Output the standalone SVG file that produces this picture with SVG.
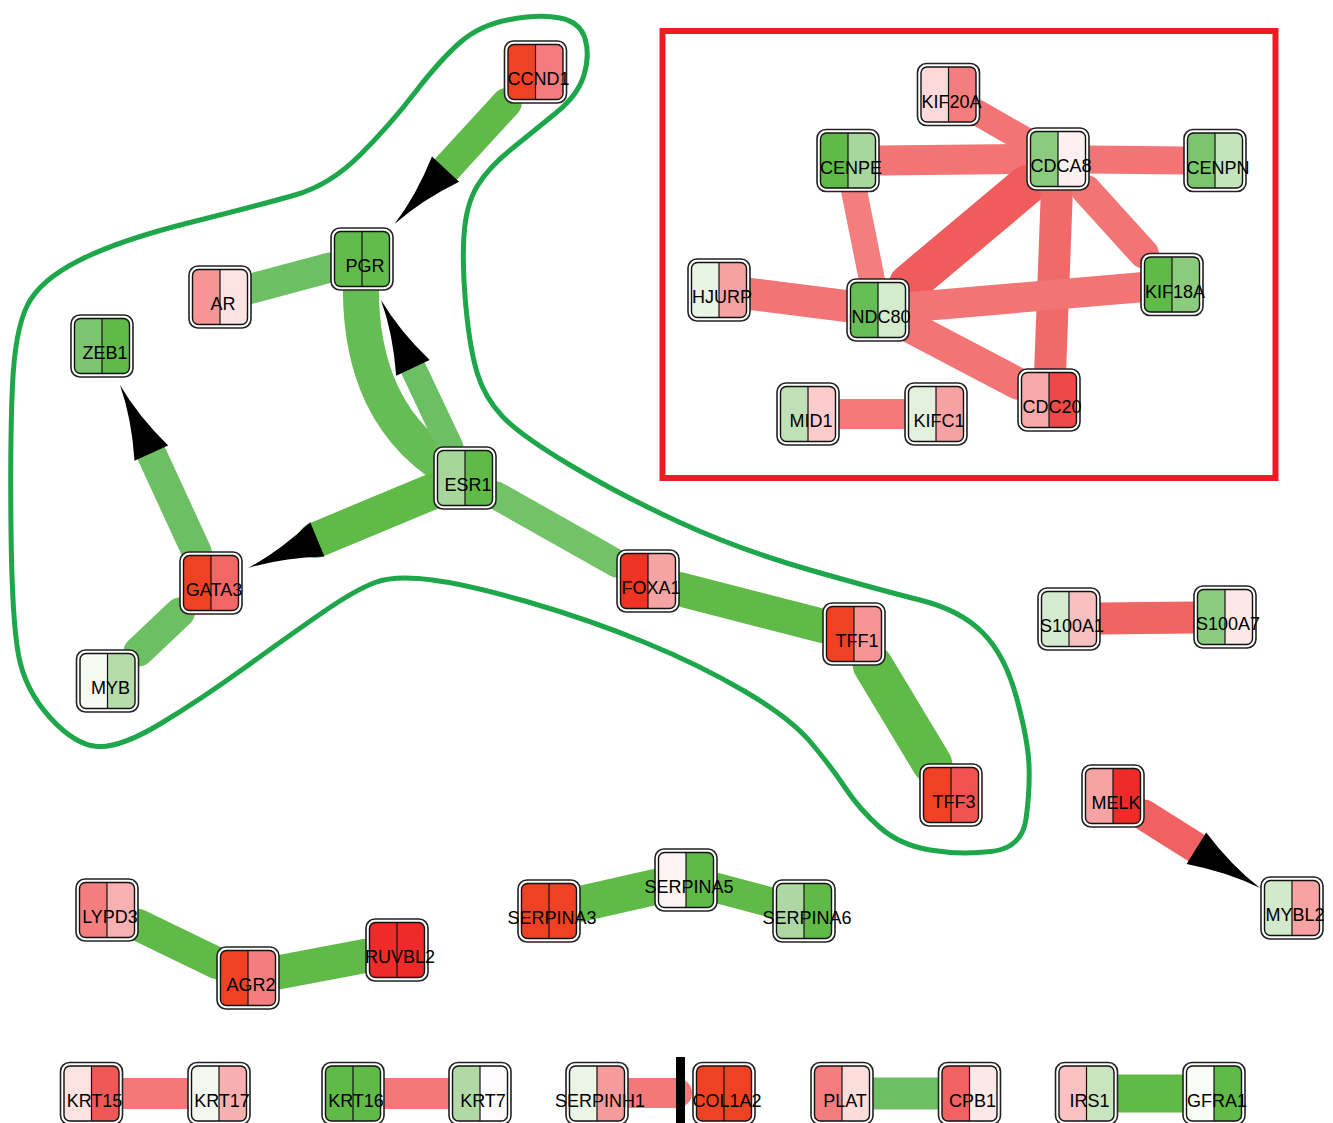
<svg xmlns="http://www.w3.org/2000/svg" xmlns:xlink="http://www.w3.org/1999/xlink" width="1333" height="1123" viewBox="0 0 1333 1123">
<style>
.o{fill:#fff;stroke:#222;stroke-width:1.6}
.i{fill:none;stroke:#111;stroke-width:1.4}
.d{stroke:#111;stroke-width:1.2}
text{font-family:"Liberation Sans",Arial,sans-serif;font-size:18px;text-anchor:middle;fill:#000}
.e{fill:none;stroke-linecap:round}
.g{stroke:#5fba47}.gl{stroke:#6cc063}.gm{stroke:#66bd55}.r{stroke:#f27474}.rd{stroke:#f05c5c}
</style>
<defs>
<clipPath id="ic"><rect x="-27.5" y="-27.5" width="55" height="55" rx="6"/></clipPath>
<g id="fr"><rect class="i" x="-27.5" y="-27.5" width="55" height="55" rx="6"/><line class="d" x1="0" y1="-27.5" x2="0" y2="27.5"/></g>
<rect id="ob" class="o" x="-31" y="-31" width="62" height="62" rx="9"/>
<path id="arr" d="M0,0 Q-36,-3.5 -75,-18.5 L-75,18.5 Q-36,3.5 0,0 Z" fill="#000"/>
</defs>
<rect width="1333" height="1123" fill="#fff"/>
<rect x="662.5" y="31" width="613" height="447" fill="none" stroke="#ed1c24" stroke-width="6"/>
<g id="connectors">
<line class="e g" stroke-width="30" x1="506.7" y1="103" x2="447" y2="168"/>
<line class="e gl" stroke-width="30" x1="251" y1="288.7" x2="331" y2="267.3"/>
<path class="e gm" stroke-width="36" d="M362,259 Q350,420 465,478"/>
<line class="e gl" stroke-width="26" x1="450.4" y1="447" x2="414" y2="370"/>
<line class="e g" stroke-width="36" x1="434" y1="490.8" x2="316" y2="540"/>
<line class="e gl" stroke-width="30" x1="196.7" y1="552" x2="152" y2="455"/>
<line class="e gl" stroke-width="30" x1="180" y1="612.4" x2="138.5" y2="651.6"/>
<line class="e" stroke="#72c268" stroke-width="28" x1="496" y1="495.4" x2="617" y2="563.6"/>
<line class="e g" stroke-width="34" x1="679" y1="589" x2="823" y2="626"/>
<line class="e g" stroke-width="40" x1="872.7" y1="665" x2="932.3" y2="764"/>
<line class="e r" stroke-width="26" x1="978" y1="112.9" x2="1027" y2="141.1"/>
<line class="e r" stroke-width="30" x1="880" y1="160.4" x2="1027" y2="159"/>
<line class="e r" stroke-width="28" x1="1089" y1="159.4" x2="1184" y2="160.4"/>
<line class="e rd" stroke-width="40" x1="1027" y1="185" x2="909" y2="284"/>
<line class="e r" stroke-width="30" x1="1086.2" y1="190" x2="1143.8" y2="253.5"/>
<line class="e" stroke="#f06a6a" stroke-width="32" x1="1056.9" y1="190" x2="1050.2" y2="369"/>
<line class="e" stroke="#f47d7d" stroke-width="26" x1="854.2" y1="191.5" x2="871.8" y2="279"/>
<line class="e r" stroke-width="32" x1="750" y1="293.9" x2="847" y2="306.1"/>
<line class="e r" stroke-width="30" x1="909" y1="307.3" x2="1141" y2="287.2"/>
<line class="e r" stroke-width="32" x1="909" y1="326.3" x2="1018" y2="383.7"/>
<line class="e" stroke="#f47a7a" stroke-width="30" x1="839" y1="414" x2="905" y2="414"/>
<line class="e" stroke="#f06464" stroke-width="32" x1="1100" y1="618.6" x2="1194" y2="617.4"/>
<line class="e" stroke="#f06262" stroke-width="31" x1="1144" y1="815" x2="1198" y2="849"/>
<line class="e g" stroke-width="32" x1="138" y1="924.9" x2="217" y2="963.1"/>
<line class="e g" stroke-width="34" x1="279" y1="972.2" x2="366" y2="955.8"/>
<line class="e g" stroke-width="36" x1="580" y1="904" x2="655" y2="887"/>
<line class="e g" stroke-width="30" x1="717" y1="888" x2="773" y2="903"/>
<line class="e" stroke="#f47878" stroke-width="31" x1="122.5" y1="1093.5" x2="188" y2="1093.5"/>
<line class="e" stroke="#f47878" stroke-width="31" x1="384" y1="1093.5" x2="449" y2="1093.5"/>
<line class="e" stroke="#f47878" stroke-width="30" x1="628" y1="1093" x2="677" y2="1093"/>
<rect x="676" y="1057" width="9" height="72" fill="#000"/>
<line class="e gl" stroke-width="32" x1="873" y1="1093.5" x2="938.5" y2="1093.5"/>
<line class="e g" stroke-width="38" x1="1117.5" y1="1093.5" x2="1183" y2="1093.5"/>
<use href="#arr" transform="translate(394.5,224) rotate(132.9)"/>
<use href="#arr" transform="translate(381,300) rotate(-115.2)"/>
<use href="#arr" transform="translate(248,568) rotate(157.5)"/>
<use href="#arr" transform="translate(120,385) rotate(-114.7)"/>
<use href="#arr" transform="translate(1260,888) rotate(32)"/>
</g>
<path fill="none" stroke="#1ea64b" stroke-width="5" d="M560,18 Q580,22 585,38.5 Q590,55 584,75 Q578,95 556.5,112.5 Q535,130 511.5,149 Q488,168 477,186.5 Q466,205 464,235 Q462,265 466,307.5 Q470,350 477.5,374 Q485,398 502.5,416.5 Q520,435 570,465 Q620,495 680,522.5 Q740,550 810,570 Q880,590 920,600 Q960,610 982.5,632.5 Q1005,655 1016.5,697.5 Q1028,740 1029,765 Q1030,790 1026,819 Q1022,848 991,851.5 Q960,855 930,850 Q900,845 880,827.5 Q860,810 845,787.5 Q830,765 810,741.5 Q790,718 745,691.5 Q700,665 645,642.5 Q590,620 530,602.5 Q470,585 432.5,580 Q395,575 375,582.5 Q355,590 322.5,612.5 Q290,635 245,667.5 Q200,700 160,724 Q120,748 97.5,746.5 Q75,745 50,717.5 Q25,690 18.5,655 Q12,620 11,530 Q10,440 12.5,385 Q15,330 27.5,305 Q40,280 80,260 Q120,240 190,222.5 Q260,205 295,195 Q330,185 360,155 Q390,125 415,92.5 Q440,60 460,42.5 Q480,25 510,19.5 Q540,14 560,18 Z"/>
<g id="nodes">
<g id="CCND1" transform="translate(535.5,72)"><use href="#ob"/><g clip-path="url(#ic)"><rect x="-27.5" y="-27.5" width="27.5" height="55" fill="#ef4123"/><rect x="0" y="-27.5" width="27.5" height="55" fill="#f47c7c"/></g><use href="#fr"/><text x="3" y="13">CCND1</text></g>
<g id="PGR" transform="translate(362,259)"><use href="#ob"/><g clip-path="url(#ic)"><rect x="-27.5" y="-27.5" width="27.5" height="55" fill="#62bb4b"/><rect x="0" y="-27.5" width="27.5" height="55" fill="#62bb4b"/></g><use href="#fr"/><text x="3" y="13">PGR</text></g>
<g id="AR" transform="translate(220,297)"><use href="#ob"/><g clip-path="url(#ic)"><rect x="-27.5" y="-27.5" width="27.5" height="55" fill="#f59595"/><rect x="0" y="-27.5" width="27.5" height="55" fill="#fde2e2"/></g><use href="#fr"/><text x="3" y="13">AR</text></g>
<g id="ZEB1" transform="translate(102,346)"><use href="#ob"/><g clip-path="url(#ic)"><rect x="-27.5" y="-27.5" width="27.5" height="55" fill="#7cc570"/><rect x="0" y="-27.5" width="27.5" height="55" fill="#5fba47"/></g><use href="#fr"/><text x="3" y="13">ZEB1</text></g>
<g id="ESR1" transform="translate(465,478)"><use href="#ob"/><g clip-path="url(#ic)"><rect x="-27.5" y="-27.5" width="27.5" height="55" fill="#a7d69b"/><rect x="0" y="-27.5" width="27.5" height="55" fill="#5fba47"/></g><use href="#fr"/><text x="3" y="13">ESR1</text></g>
<g id="GATA3" transform="translate(211,583)"><use href="#ob"/><g clip-path="url(#ic)"><rect x="-27.5" y="-27.5" width="27.5" height="55" fill="#ef4123"/><rect x="0" y="-27.5" width="27.5" height="55" fill="#f26666"/></g><use href="#fr"/><text x="3" y="13">GATA3</text></g>
<g id="MYB" transform="translate(107.5,681)"><use href="#ob"/><g clip-path="url(#ic)"><rect x="-27.5" y="-27.5" width="27.5" height="55" fill="#f6faf2"/><rect x="0" y="-27.5" width="27.5" height="55" fill="#b5dca9"/></g><use href="#fr"/><text x="3" y="13">MYB</text></g>
<g id="FOXA1" transform="translate(648,581)"><use href="#ob"/><g clip-path="url(#ic)"><rect x="-27.5" y="-27.5" width="27.5" height="55" fill="#ef3324"/><rect x="0" y="-27.5" width="27.5" height="55" fill="#f6a3a3"/></g><use href="#fr"/><text x="3" y="13">FOXA1</text></g>
<g id="TFF1" transform="translate(854,634)"><use href="#ob"/><g clip-path="url(#ic)"><rect x="-27.5" y="-27.5" width="27.5" height="55" fill="#ef4123"/><rect x="0" y="-27.5" width="27.5" height="55" fill="#f69595"/></g><use href="#fr"/><text x="3" y="13">TFF1</text></g>
<g id="TFF3" transform="translate(951,795)"><use href="#ob"/><g clip-path="url(#ic)"><rect x="-27.5" y="-27.5" width="27.5" height="55" fill="#ef4123"/><rect x="0" y="-27.5" width="27.5" height="55" fill="#f15353"/></g><use href="#fr"/><text x="3" y="13">TFF3</text></g>
<g id="KIF20A" transform="translate(948.5,94.5)"><use href="#ob"/><g clip-path="url(#ic)"><rect x="-27.5" y="-27.5" width="27.5" height="55" fill="#fdd9d9"/><rect x="0" y="-27.5" width="27.5" height="55" fill="#f47e7e"/></g><use href="#fr"/><text x="3" y="13">KIF20A</text></g>
<g id="CENPE" transform="translate(848,160.5)"><use href="#ob"/><g clip-path="url(#ic)"><rect x="-27.5" y="-27.5" width="27.5" height="55" fill="#5fba47"/><rect x="0" y="-27.5" width="27.5" height="55" fill="#a8d79d"/></g><use href="#fr"/><text x="3" y="13">CENPE</text></g>
<g id="CDCA8" transform="translate(1058,159)"><use href="#ob"/><g clip-path="url(#ic)"><rect x="-27.5" y="-27.5" width="27.5" height="55" fill="#8acb7d"/><rect x="0" y="-27.5" width="27.5" height="55" fill="#fdf0f0"/></g><use href="#fr"/><text x="3" y="13">CDCA8</text></g>
<g id="CENPN" transform="translate(1215,160.5)"><use href="#ob"/><g clip-path="url(#ic)"><rect x="-27.5" y="-27.5" width="27.5" height="55" fill="#7ac56e"/><rect x="0" y="-27.5" width="27.5" height="55" fill="#c4e4bb"/></g><use href="#fr"/><text x="3" y="13">CENPN</text></g>
<g id="HJURP" transform="translate(719,290)"><use href="#ob"/><g clip-path="url(#ic)"><rect x="-27.5" y="-27.5" width="27.5" height="55" fill="#e8f4e4"/><rect x="0" y="-27.5" width="27.5" height="55" fill="#f6a2a2"/></g><use href="#fr"/><text x="3" y="13">HJURP</text></g>
<g id="NDC80" transform="translate(878,310)"><use href="#ob"/><g clip-path="url(#ic)"><rect x="-27.5" y="-27.5" width="27.5" height="55" fill="#67bd56"/><rect x="0" y="-27.5" width="27.5" height="55" fill="#d4ebcd"/></g><use href="#fr"/><text x="3" y="13">NDC80</text></g>
<g id="KIF18A" transform="translate(1172,284.5)"><use href="#ob"/><g clip-path="url(#ic)"><rect x="-27.5" y="-27.5" width="27.5" height="55" fill="#5fba47"/><rect x="0" y="-27.5" width="27.5" height="55" fill="#8acb7d"/></g><use href="#fr"/><text x="3" y="13">KIF18A</text></g>
<g id="MID1" transform="translate(808,414)"><use href="#ob"/><g clip-path="url(#ic)"><rect x="-27.5" y="-27.5" width="27.5" height="55" fill="#bfe1b5"/><rect x="0" y="-27.5" width="27.5" height="55" fill="#fccbcb"/></g><use href="#fr"/><text x="3" y="13">MID1</text></g>
<g id="KIFC1" transform="translate(936,414)"><use href="#ob"/><g clip-path="url(#ic)"><rect x="-27.5" y="-27.5" width="27.5" height="55" fill="#e2f1dd"/><rect x="0" y="-27.5" width="27.5" height="55" fill="#f6a2a2"/></g><use href="#fr"/><text x="3" y="13">KIFC1</text></g>
<g id="CDC20" transform="translate(1049,400)"><use href="#ob"/><g clip-path="url(#ic)"><rect x="-27.5" y="-27.5" width="27.5" height="55" fill="#f7a9a9"/><rect x="0" y="-27.5" width="27.5" height="55" fill="#ef4848"/></g><use href="#fr"/><text x="3" y="13">CDC20</text></g>
<g id="S100A1" transform="translate(1069,619)"><use href="#ob"/><g clip-path="url(#ic)"><rect x="-27.5" y="-27.5" width="27.5" height="55" fill="#d5ebcf"/><rect x="0" y="-27.5" width="27.5" height="55" fill="#f8c0c0"/></g><use href="#fr"/><text x="3" y="13">S100A1</text></g>
<g id="S100A7" transform="translate(1225,617)"><use href="#ob"/><g clip-path="url(#ic)"><rect x="-27.5" y="-27.5" width="27.5" height="55" fill="#8acb7d"/><rect x="0" y="-27.5" width="27.5" height="55" fill="#fde7e7"/></g><use href="#fr"/><text x="3" y="13">S100A7</text></g>
<g id="MELK" transform="translate(1113,796)"><use href="#ob"/><g clip-path="url(#ic)"><rect x="-27.5" y="-27.5" width="27.5" height="55" fill="#f7a3a3"/><rect x="0" y="-27.5" width="27.5" height="55" fill="#ee2b28"/></g><use href="#fr"/><text x="3" y="13">MELK</text></g>
<g id="MYBL2" transform="translate(1292,908)"><use href="#ob"/><g clip-path="url(#ic)"><rect x="-27.5" y="-27.5" width="27.5" height="55" fill="#d2e9cb"/><rect x="0" y="-27.5" width="27.5" height="55" fill="#f7a3a3"/></g><use href="#fr"/><text x="3" y="13">MYBL2</text></g>
<g id="SERPINA5" transform="translate(686,880)"><use href="#ob"/><g clip-path="url(#ic)"><rect x="-27.5" y="-27.5" width="27.5" height="55" fill="#fdf3f2"/><rect x="0" y="-27.5" width="27.5" height="55" fill="#5fba47"/></g><use href="#fr"/><text x="3" y="13">SERPINA5</text></g>
<g id="SERPINA3" transform="translate(549,911)"><use href="#ob"/><g clip-path="url(#ic)"><rect x="-27.5" y="-27.5" width="27.5" height="55" fill="#ef4123"/><rect x="0" y="-27.5" width="27.5" height="55" fill="#ef4123"/></g><use href="#fr"/><text x="3" y="13">SERPINA3</text></g>
<g id="SERPINA6" transform="translate(804,911)"><use href="#ob"/><g clip-path="url(#ic)"><rect x="-27.5" y="-27.5" width="27.5" height="55" fill="#aed8a3"/><rect x="0" y="-27.5" width="27.5" height="55" fill="#5fba47"/></g><use href="#fr"/><text x="3" y="13">SERPINA6</text></g>
<g id="LYPD3" transform="translate(107,910)"><use href="#ob"/><g clip-path="url(#ic)"><rect x="-27.5" y="-27.5" width="27.5" height="55" fill="#f47e7e"/><rect x="0" y="-27.5" width="27.5" height="55" fill="#f8b1b1"/></g><use href="#fr"/><text x="3" y="13">LYPD3</text></g>
<g id="AGR2" transform="translate(248,978)"><use href="#ob"/><g clip-path="url(#ic)"><rect x="-27.5" y="-27.5" width="27.5" height="55" fill="#ef4123"/><rect x="0" y="-27.5" width="27.5" height="55" fill="#f47e7e"/></g><use href="#fr"/><text x="3" y="13">AGR2</text></g>
<g id="RUVBL2" transform="translate(397,950)"><use href="#ob"/><g clip-path="url(#ic)"><rect x="-27.5" y="-27.5" width="27.5" height="55" fill="#ee2b28"/><rect x="0" y="-27.5" width="27.5" height="55" fill="#ee2b28"/></g><use href="#fr"/><text x="3" y="13">RUVBL2</text></g>
<g id="KRT15" transform="translate(91.5,1093.5)"><use href="#ob"/><g clip-path="url(#ic)"><rect x="-27.5" y="-27.5" width="27.5" height="55" fill="#fde2e2"/><rect x="0" y="-27.5" width="27.5" height="55" fill="#f05757"/></g><use href="#fr"/><text x="3" y="13">KRT15</text></g>
<g id="KRT17" transform="translate(219,1093.5)"><use href="#ob"/><g clip-path="url(#ic)"><rect x="-27.5" y="-27.5" width="27.5" height="55" fill="#f2f8ef"/><rect x="0" y="-27.5" width="27.5" height="55" fill="#f8afaf"/></g><use href="#fr"/><text x="3" y="13">KRT17</text></g>
<g id="KRT16" transform="translate(353,1093.5)"><use href="#ob"/><g clip-path="url(#ic)"><rect x="-27.5" y="-27.5" width="27.5" height="55" fill="#5fba47"/><rect x="0" y="-27.5" width="27.5" height="55" fill="#5fba47"/></g><use href="#fr"/><text x="3" y="13">KRT16</text></g>
<g id="KRT7" transform="translate(480,1093.5)"><use href="#ob"/><g clip-path="url(#ic)"><rect x="-27.5" y="-27.5" width="27.5" height="55" fill="#b0d9a5"/><rect x="0" y="-27.5" width="27.5" height="55" fill="#fdfbfd"/></g><use href="#fr"/><text x="3" y="13">KRT7</text></g>
<g id="SERPINH1" transform="translate(597,1093.5)"><use href="#ob"/><g clip-path="url(#ic)"><rect x="-27.5" y="-27.5" width="27.5" height="55" fill="#eaf5e6"/><rect x="0" y="-27.5" width="27.5" height="55" fill="#f59b9b"/></g><use href="#fr"/><text x="3" y="13">SERPINH1</text></g>
<g id="COL1A2" transform="translate(724,1093.5)"><use href="#ob"/><g clip-path="url(#ic)"><rect x="-27.5" y="-27.5" width="27.5" height="55" fill="#ef4123"/><rect x="0" y="-27.5" width="27.5" height="55" fill="#ef4123"/></g><use href="#fr"/><text x="3" y="13">COL1A2</text></g>
<g id="PLAT" transform="translate(842,1093.5)"><use href="#ob"/><g clip-path="url(#ic)"><rect x="-27.5" y="-27.5" width="27.5" height="55" fill="#f47e7e"/><rect x="0" y="-27.5" width="27.5" height="55" fill="#fddcdc"/></g><use href="#fr"/><text x="3" y="13">PLAT</text></g>
<g id="CPB1" transform="translate(969.5,1093.5)"><use href="#ob"/><g clip-path="url(#ic)"><rect x="-27.5" y="-27.5" width="27.5" height="55" fill="#f26262"/><rect x="0" y="-27.5" width="27.5" height="55" fill="#fde8e8"/></g><use href="#fr"/><text x="3" y="13">CPB1</text></g>
<g id="IRS1" transform="translate(1086.5,1093.5)"><use href="#ob"/><g clip-path="url(#ic)"><rect x="-27.5" y="-27.5" width="27.5" height="55" fill="#f9c1c1"/><rect x="0" y="-27.5" width="27.5" height="55" fill="#c8e5bf"/></g><use href="#fr"/><text x="3" y="13">IRS1</text></g>
<g id="GFRA1" transform="translate(1214,1093.5)"><use href="#ob"/><g clip-path="url(#ic)"><rect x="-27.5" y="-27.5" width="27.5" height="55" fill="#f8fbf6"/><rect x="0" y="-27.5" width="27.5" height="55" fill="#5fba47"/></g><use href="#fr"/><text x="3" y="13">GFRA1</text></g>
</g>
</svg>
